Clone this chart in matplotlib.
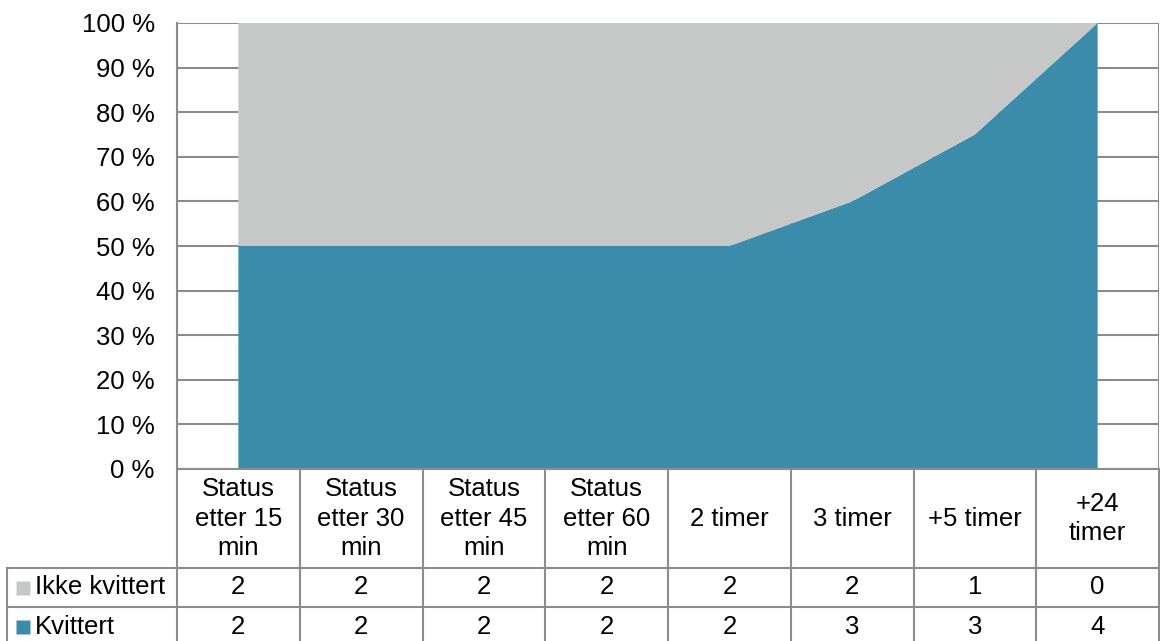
import numpy as np
import matplotlib.pyplot as plt

# Data
categories = ["Status\netter 15\nmin", "Status\netter 30\nmin", "Status\netter 45\nmin",
              "Status\netter 60\nmin", "2 timer", "3 timer", "+5 timer", "+24\ntimer"]
ikke_kvittert = [2, 2, 2, 2, 2, 2, 1, 0]
kvittert = [2, 2, 2, 2, 2, 3, 3, 4]
series_names = ["Ikke kvittert", "Kvittert"]
y_ticks = [0, 10, 20, 30, 40, 50, 60, 70, 80, 90, 100]

# Colours / style
c_kvitt = "#3b8baa"
c_ikke = "#c6c8c7"
c_line = "#8c8c8c"
fs = 18.5
plt.rcParams['font.family'] = ['Liberation Sans', 'DejaVu Sans']

W, H = 1160, 641
fig = plt.figure(figsize=(W / 100, H / 100), dpi=100)

# Plot area in pixel layout
px_left, px_right, px_top, px_bottom = 177, 1159, 23, 469
ax = fig.add_axes([px_left / W, 1 - px_bottom / H, (px_right - px_left) / W, (px_bottom - px_top) / H])

n = len(categories)
x = np.arange(n) + 0.5
kv = np.array(kvittert, dtype=float)
ik = np.array(ikke_kvittert, dtype=float)
tot = kv + ik
kv_pct = kv / tot * 100
ik_pct = ik / tot * 100

ax.stackplot(x, kv_pct, ik_pct, colors=[c_kvitt, c_ikke], zorder=3, linewidth=0)
ax.set_xlim(0, n)
ax.set_ylim(0, 100)
ax.set_yticks(y_ticks)
ax.set_yticklabels([f"{t} %" for t in y_ticks], fontsize=fs)
ax.set_xticks([])
ax.tick_params(axis='y', length=0, pad=16)
for yt in y_ticks:
    ax.axhline(yt, color=c_line, lw=1.5, zorder=1)
for xb in range(n + 1):
    ax.axvline(xb, color=c_line, lw=1.5, zorder=1)
for s in ax.spines.values():
    s.set_visible(False)
ax.spines['left'].set_visible(True)
ax.spines['left'].set_color(c_line)
ax.spines['left'].set_linewidth(1.5)

# Data table below
tbl_left = 7
header_h, row_h = 99, 39
col_w = (px_right - px_left) / n
label_w = (px_left - tbl_left) / col_w
axt = fig.add_axes([tbl_left / W, 0, (px_right - tbl_left) / W, (H - px_bottom) / H])
axt.set_xlim(-label_w, n)
axt.set_ylim(H - px_bottom, 0)
axt.axis('off')

row_edges = [0, header_h, header_h + row_h, header_h + 2 * row_h]
# horizontal lines
axt.plot([0, n], [0, 0], color=c_line, lw=1.5, clip_on=False)
for ye in row_edges[1:]:
    axt.plot([-label_w, n], [ye, ye], color=c_line, lw=1.5, clip_on=False)
# vertical lines
for xb in range(n + 1):
    axt.plot([xb, xb], [0, row_edges[-1]], color=c_line, lw=1.5, clip_on=False)
axt.plot([-label_w, -label_w], [header_h, row_edges[-1]], color=c_line, lw=1.5, clip_on=False)

# header text
for i, cat in enumerate(categories):
    axt.text(i + 0.5, header_h / 2, cat, ha='center', va='center', fontsize=fs,
             linespacing=1.27)

rows = [(series_names[0], ikke_kvittert, c_ikke), (series_names[1], kvittert, c_kvitt)]
for r, (name, vals, col) in enumerate(rows):
    yc = (row_edges[r + 1] + row_edges[r + 2]) / 2
    axt.plot(-label_w + 15.5 / col_w, yc, marker='s', ms=10, color=col,
             mec='none', clip_on=False)
    axt.text(-label_w + 28 / col_w, yc, name, ha='left', va='center', fontsize=fs)
    for i, v in enumerate(vals):
        axt.text(i + 0.5, yc, str(v), ha='center', va='center', fontsize=fs)

fig.savefig("out.png", dpi=100)
